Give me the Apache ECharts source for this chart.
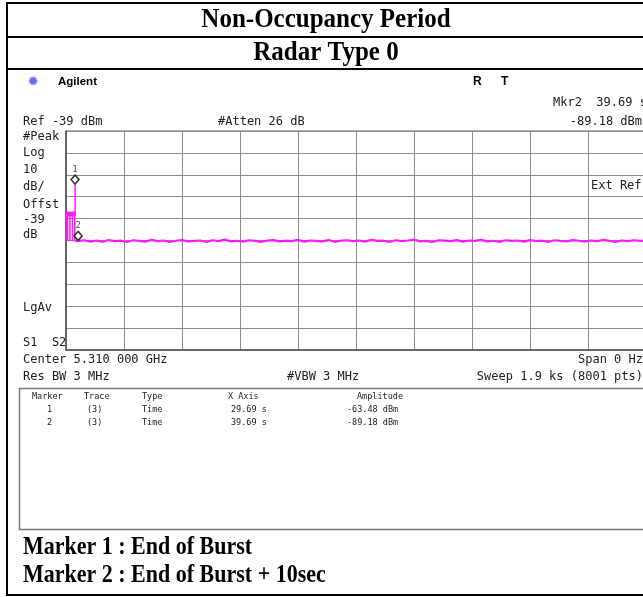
<!DOCTYPE html>
<html>
<head>
<meta charset="utf-8">
<script src="https://cdn.jsdelivr.net/npm/echarts@6/dist/echarts.min.js"></script>
<style>
  html, body { margin: 0; padding: 0; background: #fff; overflow: hidden; }
  #chart { width: 660px; height: 597px; }
</style>
</head>
<body>
<div id="chart"></div>
<script>
// sweep: 1.9 ks over 10 div, ref -39 dBm, 10 dB/div
const xTicks = [0, 190, 380, 570, 760, 950, 1140, 1330, 1520, 1710, 1900];
const yTicks = [-139, -129, -119, -109, -99, -89, -79, -69, -59, -49, -39];

// burst part of trace (s, dBm)
const burstTime = [0, 0, 0.7, 1.4, 2.1, 2.8, 3.5, 4.2, 4.9, 5.5, 5.5, 5.6, 6.3, 7.0, 7.7, 8.4, 9.1, 9.8, 10.5, 11.2, 11.9, 12.6,
  13.1, 13.1, 13.2, 13.9, 14.6, 15.3, 16.0, 16.7, 17.4, 18.1, 18.8, 19.5, 20.2, 20.7, 20.7, 20.8, 21.5, 22.2, 22.9,
  23.6, 24.3, 25.0, 25.7, 26.4, 27.2, 27.2, 27.3, 28.0, 28.7, 29.4, 29.69, 29.69, 30.0];
const burstLevel = [-89.3, -76.0, -77.8, -75.9, -77.9, -76.1, -77.7, -75.8, -77.9, -76.2, -89.3, -76.0, -77.8, -75.9, -77.9,
  -76.1, -77.7, -75.8, -77.9, -76.0, -77.8, -76.2, -77.6, -89.3, -76.0, -77.9, -75.8, -77.7, -76.1, -77.9, -75.9, -77.8,
  -76.0, -77.7, -76.2, -77.9, -89.3, -76.0, -77.8, -75.9, -77.7, -76.1, -77.9, -75.8, -77.8, -76.0, -77.7, -89.3, -76.1,
  -77.9, -75.9, -77.6, -76.3, -63.48, -89.3];

// noise floor after the burst
const floorTime = [30, 40, 60, 80, 100, 120, 140, 160, 180, 200, 220, 240, 260, 280, 300, 320, 340, 360, 380, 400, 420,
  440, 460, 480, 500, 520, 540, 560, 580, 600, 620, 640, 660, 680, 700, 720, 740, 760, 780, 800, 820,
  840, 860, 880, 900, 920, 940, 960, 980, 1000, 1020, 1040, 1060, 1080, 1100, 1120, 1140, 1160, 1180, 1200, 1220,
  1240, 1260, 1280, 1300, 1320, 1340, 1360, 1380, 1400, 1420, 1440, 1460, 1480, 1500, 1520, 1540, 1560, 1580, 1600, 1620,
  1640, 1660, 1680, 1700, 1720, 1740, 1760, 1780, 1800, 1820, 1840, 1860, 1880, 1900];
const floorLevel = [-89.3, -89.18, -88.9, -89.5, -89.0, -89.6, -88.8, -89.3, -89.1, -89.7, -88.9,
  -89.2, -89.5, -88.7, -89.3, -89.0, -89.6, -89.1, -88.8, -89.4, -89.2,
  -89.0, -89.7, -88.9, -89.3, -88.6, -89.4, -89.1, -89.5, -88.9, -89.2,
  -89.6, -89.0, -88.8, -89.4, -89.1, -89.3, -88.7, -89.5, -89.0, -89.2,
  -89.4, -88.8, -89.6, -89.1, -88.9, -89.3, -89.0, -89.5, -88.7, -89.2,
  -89.1, -89.6, -88.9, -89.3, -89.0, -88.6, -89.4, -89.2, -89.7, -88.9,
  -89.1, -89.3, -88.8, -89.5, -89.0, -89.2, -88.7, -89.4, -89.1, -89.6,
  -88.9, -89.2, -89.0, -89.5, -88.8, -89.3, -89.1, -89.6, -88.9, -89.2,
  -89.4, -88.8, -89.1, -89.5, -89.0, -89.3, -88.7, -89.2, -89.6, -89.0,
  -89.3, -88.9, -89.2, -89.1];

// markers
const markerNames = ['1', '2'];
const markerTime = [29.69, 39.69];
const markerLevel = [-63.48, -89.18];

const traceColor = '#ff1aff';
const monoFont = '12px "DejaVu Sans Mono"';
const smallFont = '8.5px "DejaVu Sans Mono"';
const titleFont = 'bold 25px "Liberation Serif"';
const noteFont = 'bold 22px "Liberation Serif"';

function txt(text, x, y, font, align, fill, scaleY) {
    return {
        type: 'text',
        silent: true,
        x: x,
        y: y,
        scaleY: scaleY || 1,
        style: {
            text: text,
            x: 0,
            y: 0,
            font: font,
            fill: fill || '#222',
            align: align || 'left',
            verticalAlign: 'middle',
        },
    };
}
function bar(x, y, w, h, color) {
    return { type: 'rect', silent: true, shape: { x: x, y: y, width: w, height: h }, style: { fill: color || '#000' } };
}

const burstData = burstTime.map((t, i) => [t, burstLevel[i]]);
const floorData = floorTime.map((t, i) => [t, floorLevel[i]]);

const graphics = [
    // table frame
    bar(6, 2, 660, 2),
    bar(6, 36, 660, 2),
    bar(6, 68, 660, 2),
    bar(6, 2, 2, 594),
    bar(6, 594, 660, 2),
    txt('Non-Occupancy Period', 326, 20, titleFont, 'center', '#000', 1.08),
    txt('Radar Type 0', 326, 53, titleFont, 'center', '#000', 1.08),
    // analyzer header
    txt('\u2739', 33, 82, '14px "DejaVu Sans"', 'center', '#6b6bf0'),
    txt('Agilent', 58, 82, 'bold 11.5px "Liberation Sans"', 'left', '#000'),
    txt('R', 473, 82, 'bold 12px "Liberation Sans"', 'left', '#000'),
    txt('T', 501, 82, 'bold 12px "Liberation Sans"', 'left', '#000'),
    txt('Mkr2  39.69 s', 553, 103, monoFont),
    txt('Ref -39 dBm', 23, 122, monoFont),
    txt('#Atten 26 dB', 218, 122, monoFont),
    txt('-89.18 dBm', 642, 122, monoFont, 'right'),
    txt('#Peak', 23, 137, monoFont),
    txt('Log', 23, 153, monoFont),
    txt('10', 23, 170, monoFont),
    txt('dB/', 23, 187, monoFont),
    txt('Offst', 23, 205, monoFont),
    txt('-39', 23, 220, monoFont),
    txt('dB', 23, 235, monoFont),
    txt('LgAv', 23, 308, monoFont),
    txt('S1  S2', 23, 343, monoFont),
    txt('Ext Ref', 591, 186, monoFont),
    txt('Center 5.310 000 GHz', 23, 360, monoFont),
    txt('Span 0 Hz', 643, 360, monoFont, 'right'),
    txt('Res BW 3 MHz', 23, 377, monoFont),
    txt('#VBW 3 MHz', 287, 377, monoFont),
    txt('Sweep 1.9 ks (8001 pts)', 643, 377, monoFont, 'right'),
    // marker table
    {
        type: 'rect', silent: true,
        shape: { x: 19.5, y: 388.5, width: 700, height: 141 },
        style: { fill: 'none', stroke: '#777', lineWidth: 1.5 },
    },
    txt('Marker', 32, 397, smallFont),
    txt('Trace', 84, 397, smallFont),
    txt('Type', 142, 397, smallFont),
    txt('X Axis', 228, 397, smallFont),
    txt('Amplitude', 357, 397, smallFont),
    txt('1', 47, 410, smallFont),
    txt('(3)', 87, 410, smallFont),
    txt('Time', 142, 410, smallFont),
    txt('29.69 s', 231, 410, smallFont),
    txt('-63.48 dBm', 347, 410, smallFont),
    txt('2', 47, 423, smallFont),
    txt('(3)', 87, 423, smallFont),
    txt('Time', 142, 423, smallFont),
    txt('39.69 s', 231, 423, smallFont),
    txt('-89.18 dBm', 347, 423, smallFont),
    // notes
    txt('Marker 1 : End of Burst', 23, 548, noteFont, 'left', '#000', 1.1),
    txt('Marker 2 : End of Burst + 10sec', 23, 576, noteFont, 'left', '#000', 1.1),
];

const myChart = echarts.init(document.getElementById('chart'));
myChart.setOption({
    animation: false,
    grid: {
        left: 66,
        top: 131,
        width: 580,
        height: 219,
        show: true,
        borderColor: '#666',
        borderWidth: 1,
    },
    xAxis: {
        type: 'value',
        min: xTicks[0],
        max: xTicks[xTicks.length - 1],
        interval: xTicks[1] - xTicks[0],
        axisLine: { show: true, lineStyle: { color: '#555', width: 1.5 } },
        axisTick: { show: false },
        axisLabel: { show: false },
        splitLine: { show: true, lineStyle: { color: '#8e8e8e', width: 1 } },
    },
    yAxis: {
        type: 'value',
        min: yTicks[0],
        max: yTicks[yTicks.length - 1],
        interval: yTicks[1] - yTicks[0],
        axisLine: { show: true, lineStyle: { color: '#555', width: 1.5 } },
        axisTick: { show: false },
        axisLabel: { show: false },
        splitLine: { show: true, lineStyle: { color: '#8e8e8e', width: 1 } },
    },
    series: [
        {
            name: 'burst',
            type: 'line',
            data: burstData,
            symbol: 'none',
            lineStyle: { color: traceColor, width: 1 },
        },
        {
            name: 'floor',
            type: 'line',
            data: floorData,
            symbol: 'none',
            lineStyle: { color: traceColor, width: 2.2 },
        },
        {
            type: 'scatter',
            data: markerTime.map((t, i) => ({ value: [t, markerLevel[i]], name: markerNames[i] })),
            symbol: 'diamond',
            symbolSize: [8, 9],
            symbolOffset: [0, -5],
            itemStyle: { color: '#fff', borderColor: '#000', borderWidth: 1.5 },
            label: {
                show: true,
                position: 'top',
                distance: 0,
                formatter: (p) => p.name,
                fontFamily: 'DejaVu Sans Mono',
                fontSize: 9,
                color: '#222',
            },
            z: 5,
        },
    ],
    graphic: graphics,
});
</script>
</body>
</html>
